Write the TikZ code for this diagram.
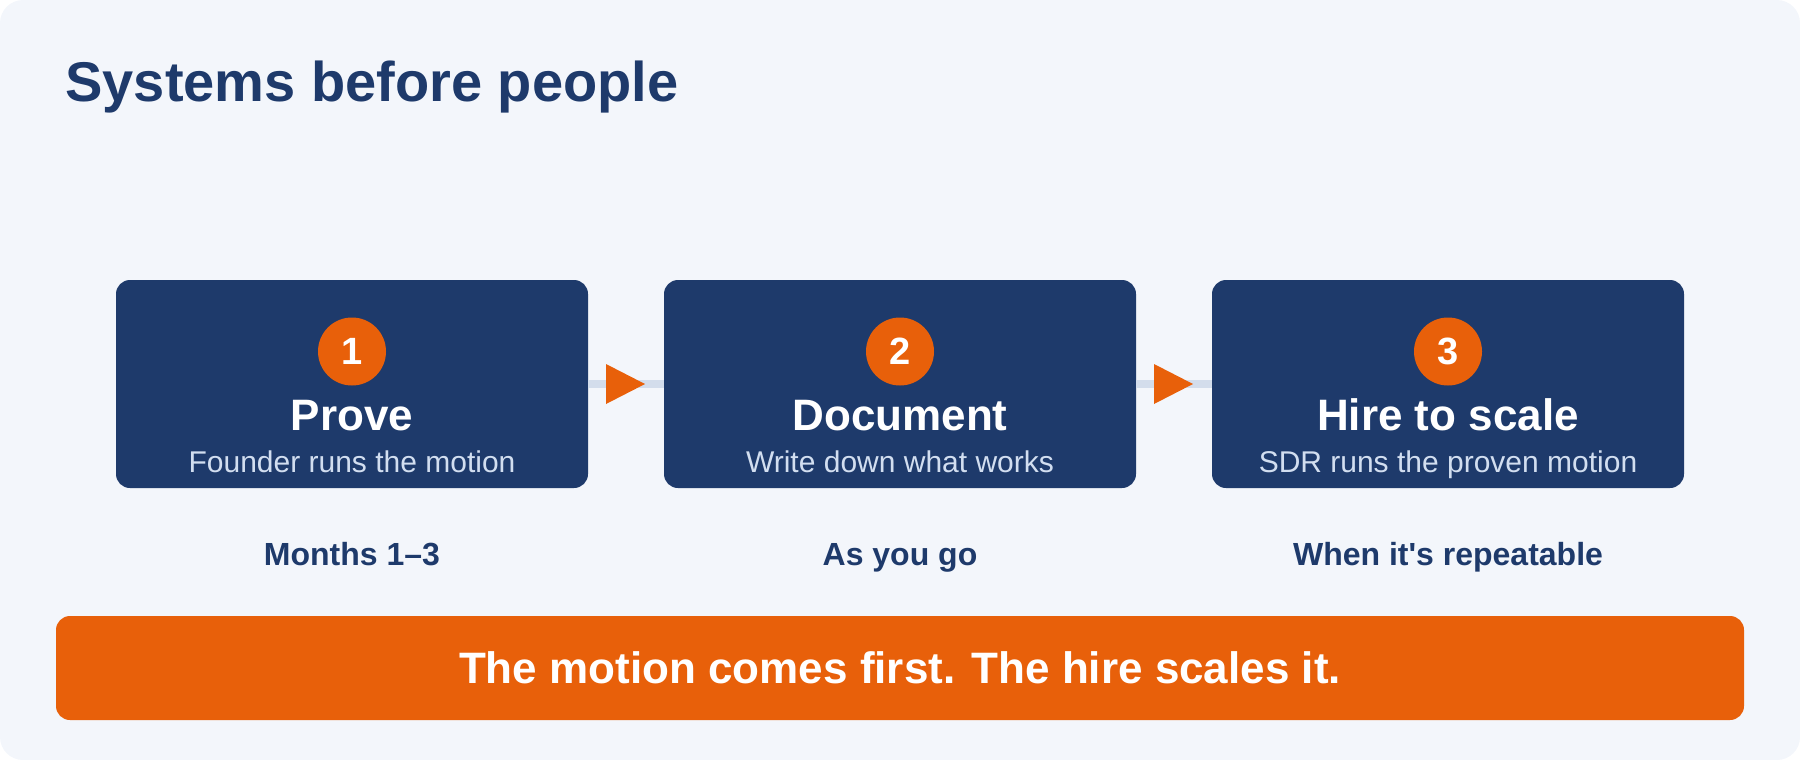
\documentclass[tikz,border=0pt]{standalone}
\usepackage{fontspec}
\setmainfont{Liberation Sans}
\usetikzlibrary{positioning}

\definecolor{navy}{HTML}{1E3A6B}
\definecolor{accent}{HTML}{E8600A}
\definecolor{canvas}{HTML}{F3F6FB}
\definecolor{rail}{HTML}{D3DDEC}
\definecolor{subtxt}{HTML}{D2DEF0}

\tikzset{
  stagebox/.style={fill=navy, rounded corners=7pt, minimum width=236pt, minimum height=104pt, inner sep=0pt},
  badge/.style={circle, fill=accent, minimum size=34pt, inner sep=0pt, text=white, font=\fontsize{19}{19}\selectfont\bfseries},
  stagetitle/.style={anchor=base, text=white, font=\fontsize{22}{22}\selectfont\bfseries, inner sep=0pt},
  stagesub/.style={anchor=base, text=subtxt, font=\fontsize{15}{15}\selectfont, inner sep=0pt},
  when/.style={anchor=base, text=navy, font=\fontsize{16}{16}\selectfont\bfseries, inner sep=0pt},
  railline/.style={draw=rail, line width=4pt},
}

\begin{document}
\begin{tikzpicture}[x=0.5pt, y=-0.5pt]
\useasboundingbox (0,0) rectangle (1800,760);
\fill[canvas, rounded corners=11.5pt] (0,0) rectangle (1800,760);

\node[anchor=base west, inner sep=0pt, text=navy, font=\fontsize{28}{28}\selectfont\bfseries] (title) at (65,101) {Systems before people};

% stages
\foreach \i/\x/\name/\sub/\when in {1/352/Prove/Founder runs the motion/Months 1--3,
                                    2/900/Document/Write down what works/As you go,
                                    3/1448/Hire to scale/SDR runs the proven motion/When it\textquotesingle s repeatable}{
  \node[stagebox] (s\i) at (\x,384) {};
  \node[badge] (b\i) at (\x,351.5) {\i};
  \node[stagetitle] (t\i) at (\x,430) {\name};
  \node[stagesub] (d\i) at (\x,472) {\sub};
  \node[when] (w\i) at (\x,565) {\when};
}

% connectors
\foreach \a/\b in {1/2, 2/3}{
  \draw[railline] (s\a.east) -- (s\b.west) coordinate[midway] (m\a);
  \fill[accent] ([shift={(-20,-20)}]m\a) -- ([shift={(19,0)}]m\a) -- ([shift={(-20,20)}]m\a) -- cycle;
}

\node[fill=accent, rounded corners=7pt, minimum width=844pt, minimum height=52pt, inner sep=0pt] (banner) at (900,668) {};
\node[anchor=base, inner sep=0pt, text=white, font=\fontsize{22}{22}\selectfont\bfseries] (msg) at (900,683) {The motion comes first. The hire scales it.};
\end{tikzpicture}
\end{document}
